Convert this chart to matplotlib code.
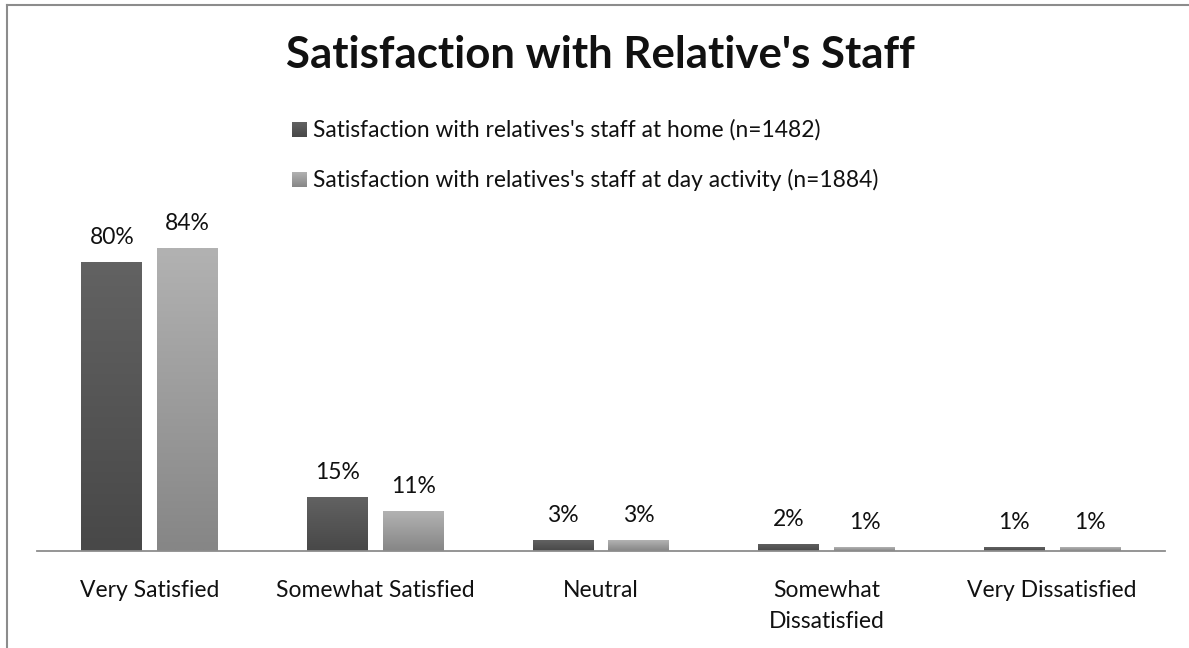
import numpy as np
import matplotlib
matplotlib.use("Agg")
import matplotlib.pyplot as plt

plt.rcParams['font.family'] = ['Lato', 'DejaVu Sans']

# data
categories = ["Very Satisfied", "Somewhat Satisfied", "Neutral",
              "Somewhat\nDissatisfied", "Very Dissatisfied"]
home = [80, 15, 3, 2, 1]
day_activity = [84, 11, 3, 1, 1]
series_names = ["Satisfaction with relatives's staff at home (n=1482)",
                "Satisfaction with relatives's staff at day activity (n=1884)"]
title = "Satisfaction with Relative's Staff"

W, H = 1189, 648
fig = plt.figure(figsize=(W / 100, H / 100), dpi=100)
ax = fig.add_axes([37 / W, 1 - 551 / H, (1165 - 37) / W, 351 / H])

x = np.arange(len(categories))
bw = 0.27
gap = 0.066
off = (bw + gap) / 2

grads = [("#626262", "#484848"), ("#b2b2b2", "#868686")]


def gradient_img(top, bottom):
    c1 = np.array(matplotlib.colors.to_rgb(top))
    c2 = np.array(matplotlib.colors.to_rgb(bottom))
    t = np.linspace(0, 1, 64)[:, None]
    return (c1 * (1 - t) + c2 * t)[:, None, :]


def gradient_bars(bars, top, bottom):
    img = gradient_img(top, bottom)
    for b in bars:
        x0, y0 = b.get_x(), b.get_y()
        w, h = b.get_width(), b.get_height()
        if h <= 0:
            continue
        im = ax.imshow(img, extent=(x0, x0 + w, y0, y0 + h), aspect='auto',
                       origin='upper', zorder=2, interpolation='bilinear')
        im.set_clip_path(b)
        b.set_alpha(0)


b1 = ax.bar(x - off, home, bw, color=grads[0][1], zorder=2)
b2 = ax.bar(x + off, day_activity, bw, color=grads[1][1], zorder=2)

for bars, vals in ((b1, home), (b2, day_activity)):
    for b, v in zip(bars, vals):
        ax.text(b.get_x() + b.get_width() / 2, v + 5.0, f"{v}%",
                ha='center', va='baseline', fontsize=16.5, color='#111111')

gradient_bars(b1, *grads[0])
gradient_bars(b2, *grads[1])

ax.set_xlim(-0.5, len(categories) - 0.5)
ax.set_ylim(0, 97.2)
ax.set_autoscale_on(False)
for s in ['top', 'right', 'left']:
    ax.spines[s].set_visible(False)
ax.spines['bottom'].set_color('#8c8c8c')
ax.spines['bottom'].set_linewidth(1.3)
ax.set_yticks([])
ax.set_xticks(x)
ax.set_xticklabels(categories, fontsize=16.5, color='#111111', linespacing=1.6)
ax.tick_params(axis='x', length=0, pad=21)

fig.text(600 / W, 1 - 68 / H, title, ha='center', va='baseline',
         fontsize=31.5, fontweight='bold', color='#111111')

# legend, drawn by hand to match the layout
leg_base = [137, 187]
for (top, bottom), name, yb in zip(grads, series_names, leg_base):
    ax_l = fig.add_axes([292 / W, 1 - yb / H, 15 / W, 15 / H])
    ax_l.imshow(gradient_img(top, bottom), aspect='auto', extent=(0, 1, 0, 1))
    ax_l.set_axis_off()
    fig.text(313 / W, 1 - yb / H, name, ha='left', va='baseline',
             fontsize=16.4, color='#111111')

# outer border (top/left only visible)
fig.add_artist(plt.Line2D([7 / W, 7 / W], [0, 1 - 5 / H], color='#8c8c8c', lw=1.5))
fig.add_artist(plt.Line2D([7 / W, 1], [1 - 5 / H, 1 - 5 / H], color='#8c8c8c', lw=1.5))

fig.savefig("out.png", dpi=100)
